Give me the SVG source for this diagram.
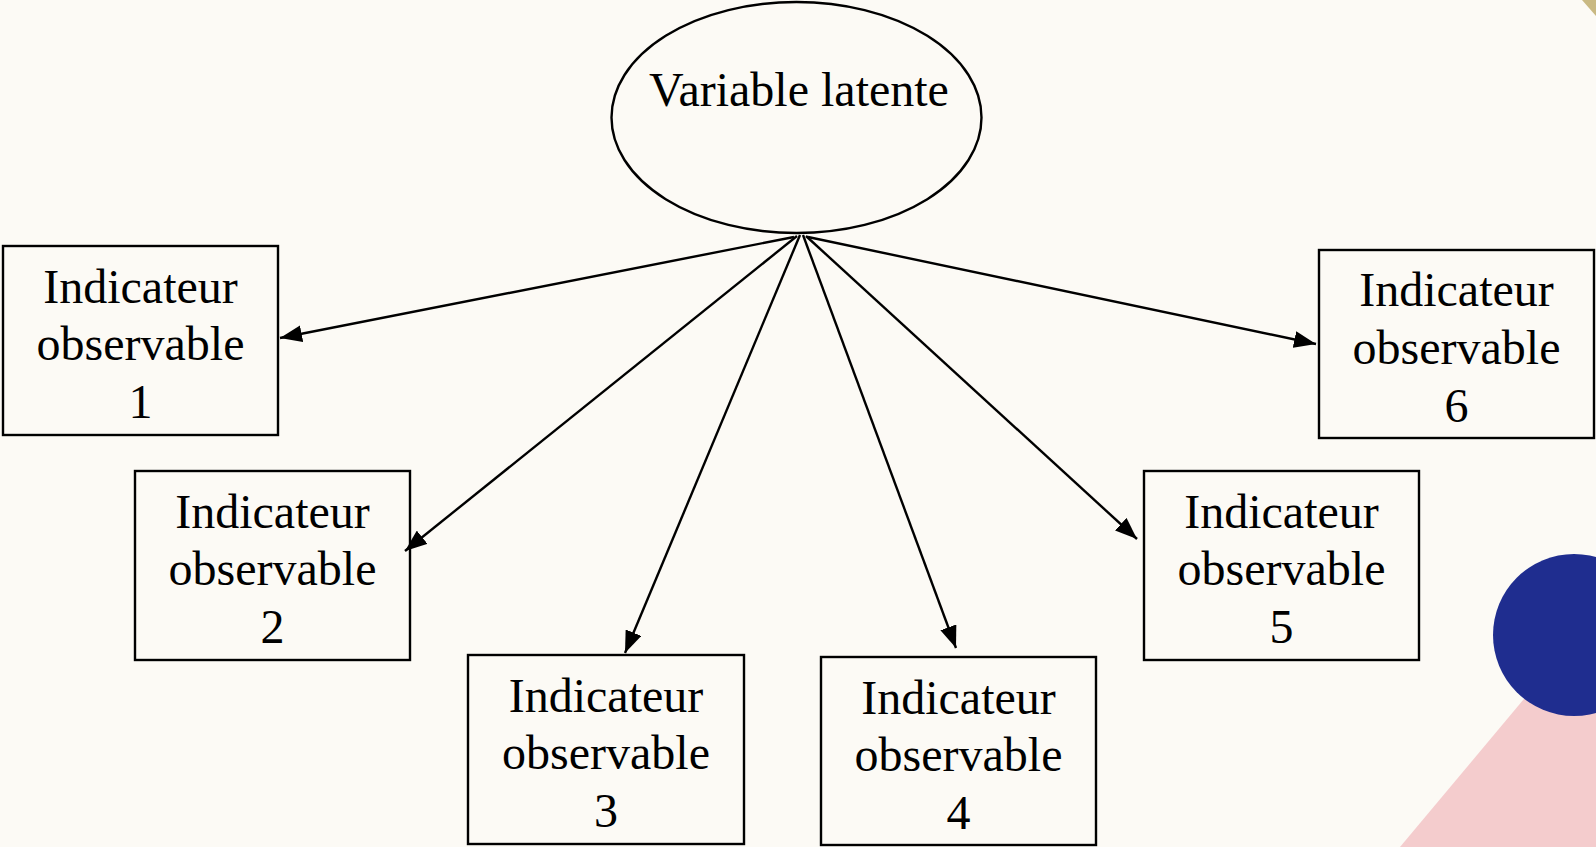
<svg xmlns="http://www.w3.org/2000/svg" width="1596" height="847" viewBox="0 0 1596 847">
<style>
.box{fill:none;stroke:#000;stroke-width:2.4}
.lbl{font-family:"Liberation Serif","Times New Roman",serif;font-size:48px;fill:#000;text-anchor:middle}
.edge{stroke:#000;stroke-width:2.4;fill:none;marker-end:url(#arr)}
</style>
<defs>
<marker id="arr" markerUnits="userSpaceOnUse" markerWidth="23" markerHeight="17" refX="22" refY="8.5" orient="auto">
<path d="M0,0 L22,8.5 L0,17 z" fill="#000"/>
</marker>
</defs>
<rect width="1596" height="847" fill="#FCFAF5"/>
<polygon points="1582,0 1596,0 1596,16" fill="#C9B983"/>
<polygon points="1400,847 1596,613 1596,847" fill="#F4CCCD"/>
<circle cx="1574" cy="635" r="81" fill="#1F2D8F"/>
<g id="latent">
<ellipse cx="796.5" cy="117.5" rx="185" ry="115.5" class="box"/>
<text x="799" y="106" class="lbl">Variable latente</text>
</g>
<g id="ind1">
<rect x="3" y="246" width="275" height="189" class="box"/>
<text class="lbl" x="140.5" y="303">Indicateur</text>
<text class="lbl" x="140.5" y="360">observable</text>
<text class="lbl" x="140.5" y="418">1</text>
</g>
<g id="ind2">
<rect x="135" y="471" width="275" height="189" class="box"/>
<text class="lbl" x="272.5" y="528">Indicateur</text>
<text class="lbl" x="272.5" y="585">observable</text>
<text class="lbl" x="272.5" y="643">2</text>
</g>
<g id="ind3">
<rect x="468" y="655" width="276" height="189" class="box"/>
<text class="lbl" x="606" y="712">Indicateur</text>
<text class="lbl" x="606" y="769">observable</text>
<text class="lbl" x="606" y="827">3</text>
</g>
<g id="ind4">
<rect x="821" y="657" width="275" height="188" class="box"/>
<text class="lbl" x="958.5" y="714">Indicateur</text>
<text class="lbl" x="958.5" y="771">observable</text>
<text class="lbl" x="958.5" y="829">4</text>
</g>
<g id="ind5">
<rect x="1144" y="471" width="275" height="189" class="box"/>
<text class="lbl" x="1281.5" y="528">Indicateur</text>
<text class="lbl" x="1281.5" y="585">observable</text>
<text class="lbl" x="1281.5" y="643">5</text>
</g>
<g id="ind6">
<rect x="1319" y="250" width="275" height="188" class="box"/>
<text class="lbl" x="1456.5" y="306">Indicateur</text>
<text class="lbl" x="1456.5" y="364">observable</text>
<text class="lbl" x="1456.5" y="422">6</text>
</g>
<g id="connectors">
<line class="edge" x1="794" y1="237" x2="280" y2="338"/>
<line class="edge" x1="797" y1="236" x2="405" y2="551"/>
<line class="edge" x1="800" y1="235" x2="625" y2="653"/>
<line class="edge" x1="803" y1="235" x2="956" y2="648"/>
<line class="edge" x1="806" y1="236" x2="1137" y2="539"/>
<line class="edge" x1="808" y1="237" x2="1316" y2="344"/>
</g>
</svg>
